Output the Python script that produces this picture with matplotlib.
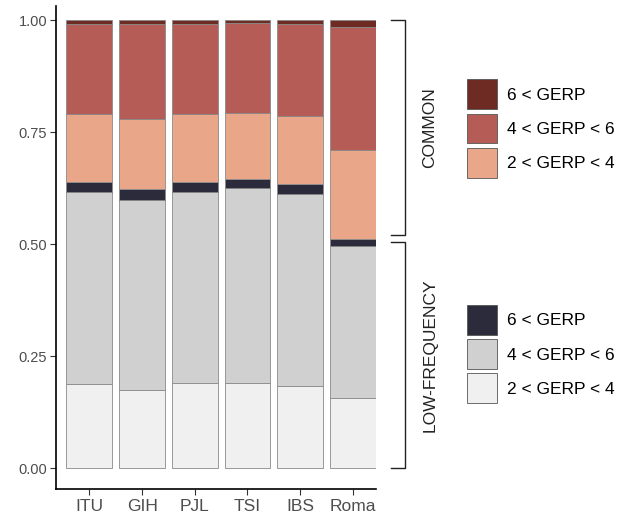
import numpy as np
import matplotlib.pyplot as plt
from matplotlib.patches import Patch
from matplotlib.transforms import blended_transform_factory

plt.rcParams['font.family'] = ['Liberation Sans', 'DejaVu Sans']

# populations
pops = ['ITU', 'GIH', 'PJL', 'TSI', 'IBS', 'Roma']

# proportions, stacked bottom -> top
lf_2_4 = [0.188, 0.174, 0.190, 0.191, 0.185, 0.157]
lf_4_6 = [0.429, 0.425, 0.427, 0.434, 0.427, 0.339]
lf_6 = [0.022, 0.024, 0.023, 0.022, 0.023, 0.016]
c_2_4 = [0.152, 0.157, 0.151, 0.147, 0.151, 0.198]
c_4_6 = [0.201, 0.212, 0.201, 0.201, 0.206, 0.276]
c_6 = [0.008, 0.008, 0.008, 0.005, 0.008, 0.014]

layers = [lf_2_4, lf_4_6, lf_6, c_2_4, c_4_6, c_6]
colors = ['#f0f0f0', '#d0d0d0', '#2b2b3b', '#e9a688', '#b65c57', '#6e2b24']

lf_labels = ['6 < GERP', '4 < GERP < 6', '2 < GERP < 4']

fig = plt.figure(figsize=(6.34, 5.15), dpi=100)
ax = fig.add_axes([55.7 / 634, 26 / 515, (376 - 55.7) / 634, (509 - 26) / 515])

x = np.arange(len(pops))
bottom = np.zeros(len(pops))
for vals, col in zip(layers, colors):
    ax.bar(x, vals, bottom=bottom, width=0.87, color=col,
           edgecolor='#8a8a8a', linewidth=0.6)
    bottom += np.array(vals)

ax.set_xlim(-0.64, 5.44)
ax.set_ylim(-0.046, 1.032)
ax.set_xticks(x)
ax.set_xticklabels(pops, fontsize=12.5, color='#4d4d4d')
ax.set_yticks([0, 0.25, 0.5, 0.75, 1.0])
ax.set_yticklabels(['0.00', '0.25', '0.50', '0.75', '1.00'], fontsize=10.5, color='#4d4d4d')
ax.tick_params(axis='both', length=4, width=0.8, color='#333333')
ax.tick_params(axis='x', pad=3)
ax.tick_params(axis='y', pad=2)
for s in ['top', 'right']:
    ax.spines[s].set_visible(False)
for s in ['left', 'bottom']:
    ax.spines[s].set_linewidth(1.2)
    ax.spines[s].set_color('black')

# brackets on the right
tr = blended_transform_factory(fig.transFigure, ax.transData)
xb, xt = 405 / 634, 391 / 634
for y0, y1 in [(1.0, 0.521), (0.506, 0.0)]:
    ax.plot([xt, xb, xb, xt], [y0, y0, y1, y1], color='#222222', lw=1.0,
            transform=tr, clip_on=False)
fig.text(430 / 634, 1 - 128 / 515, 'COMMON', rotation=90, ha='center', va='center',
         fontsize=12.5, color='#222222')
fig.text(430 / 634, 1 - 355 / 515, 'LOW-FREQUENCY', rotation=90, ha='center', va='center',
         fontsize=12.5, color='#222222')

# legends
fs = 12.5
common_handles = [Patch(facecolor=colors[5], edgecolor='#555555', lw=0.6),
                  Patch(facecolor=colors[4], edgecolor='#555555', lw=0.6),
                  Patch(facecolor=colors[3], edgecolor='#555555', lw=0.6)]
lf_handles = [Patch(facecolor=colors[2], edgecolor='#555555', lw=0.6),
              Patch(facecolor=colors[1], edgecolor='#555555', lw=0.6),
              Patch(facecolor=colors[0], edgecolor='#555555', lw=0.6)]
kw = dict(loc='upper left', frameon=False, fontsize=fs, handlelength=1.75,
          handleheight=2.27, labelspacing=0.25, handletextpad=0.6, borderpad=0,
          borderaxespad=0)
leg1 = fig.legend(common_handles, lf_labels, bbox_to_anchor=(466.7 / 634, 1 - 79.3 / 515), **kw)
leg2 = fig.legend(lf_handles, lf_labels, bbox_to_anchor=(466.7 / 634, 1 - 305 / 515), **kw)

fig.savefig('out.png', dpi=100)
